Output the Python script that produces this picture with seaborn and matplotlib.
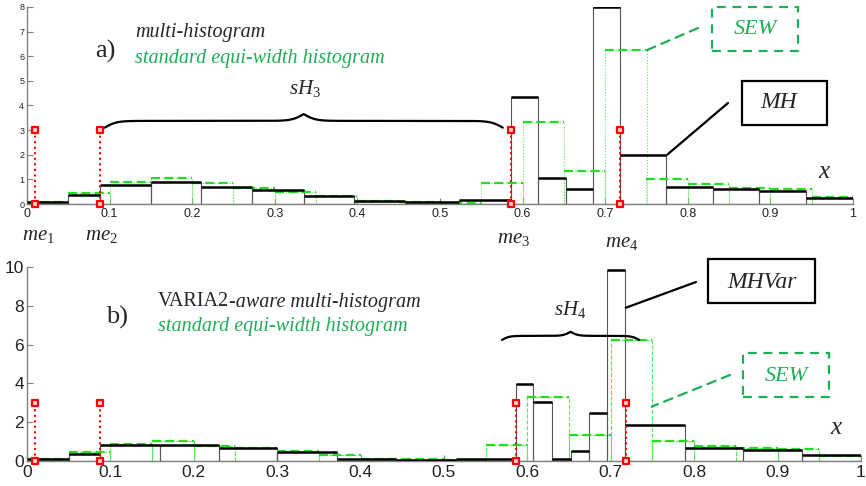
import numpy as np
import pandas as pd
import matplotlib
matplotlib.use("Agg")
import matplotlib.pyplot as plt
import matplotlib.patches as mpatches
import seaborn as sns

# DATOS
# a) multi-histograma y histograma equi-ancho
BORDES_MH_A = [0, 0.05, 0.088, 0.15, 0.211, 0.273, 0.335, 0.396, 0.458, 0.523,
               0.586, 0.619, 0.652, 0.6855, 0.7185, 0.774, 0.83, 0.886, 0.943, 1.0]
ALTURAS_MH_A = [0.1, 0.37, 0.79, 0.89, 0.68, 0.56, 0.31, 0.11, 0.07, 0.16,
                4.35, 1.07, 0.6, 8.0, 2.0, 0.7, 0.62, 0.53, 0.23]
ALTURAS_SEW_A = [0.1, 0.44, 0.89, 1.04, 0.85, 0.65, 0.49, 0.33, 0.14, 0.07,
                 0.05, 0.85, 3.34, 1.32, 6.25, 1.03, 0.8, 0.66, 0.6, 0.27]

# b) multi-histograma VARIA2 y histograma equi-ancho
BORDES_MH_B = [0, 0.05, 0.088, 0.159, 0.23, 0.30, 0.372, 0.443, 0.514, 0.586,
               0.607, 0.629, 0.652, 0.674, 0.696, 0.7175, 0.789, 0.858, 0.929, 1.0]
ALTURAS_MH_B = [0.1, 0.38, 0.81, 0.85, 0.66, 0.45, 0.1, 0.05, 0.12, 3.97,
                3.05, 0.12, 0.52, 2.48, 9.86, 1.84, 0.66, 0.59, 0.29]
ALTURAS_SEW_B = [0.12, 0.45, 0.88, 1.03, 0.76, 0.67, 0.52, 0.33, 0.09, 0.08,
                 0.04, 0.84, 3.31, 1.33, 6.24, 1.03, 0.78, 0.67, 0.6, 0.24]

BORDES_SEW = [round(i * 0.05, 2) for i in range(21)]

# posiciones de los marcadores me1..me4 y su altura
ME_X = [0.01, 0.088, 0.586, 0.718]
ME_ALTO = 3

VERDE_TXT = "#1fae55"
VERDE_BARRA = "#22dd22"
VERDE_CLARO = "#55ee55"
GRIS = "#808080"

W, H = 866, 486


def px(x, y):
    # pixeles de la figura -> fracción de figura
    return (x / W, 1 - y / H)


def dibujar_hist(ax, bordes, alturas, color_lado, color_tope, ls_lado, ls_tope, lw_tope):
    b = np.array(bordes)
    centros = (b[:-1] + b[1:]) / 2
    df = pd.DataFrame({"x": centros, "w": alturas})
    sns.histplot(data=df, x="x", weights="w", bins=list(bordes), stat="count",
                 fill=False, color=color_lado, linewidth=0.8,
                 linestyle=ls_lado, ax=ax)
    ax.hlines(alturas, b[:-1], b[1:], colors=color_tope,
              linestyles=ls_tope, linewidth=lw_tope, zorder=4)


def marcadores(ax):
    for xm in ME_X:
        ax.vlines(xm, 0, ME_ALTO, colors="red", linestyles=":", linewidth=1.5, zorder=5)
    pts = pd.DataFrame({"x": ME_X * 2, "y": [0] * 4 + [ME_ALTO] * 4})
    sns.scatterplot(data=pts, x="x", y="y", marker="s", s=22, facecolor="#ffd0d0",
                    edgecolor="red", linewidth=1.6, zorder=6, ax=ax, clip_on=False)


def llave(ax, x0, x1, y0, h, beta=220):
    # llave horizontal con curvas sigmoides
    n = 401
    x = np.linspace(x0, x1, n)
    xm = x[:n // 2 + 1]
    yh = (1 / (1 + np.exp(-beta * (xm - xm[0]))) +
          1 / (1 + np.exp(-beta * (xm - xm[-1]))))
    y = np.concatenate((yh, yh[-2::-1]))
    ax.plot(x, y0 + (y - 0.5) * h, color="black", lw=1.6, zorder=7)


def estilo_eje(ax, ymax, yticks, fs_x, fs_y):
    ax.set_xlim(0, 1)
    ax.set_ylim(0, ymax)
    ax.set_xticks(np.round(np.arange(0, 1.01, 0.1), 1))
    ax.set_xticklabels(["0", "0.1", "0.2", "0.3", "0.4", "0.5", "0.6", "0.7", "0.8", "0.9", "1"])
    ax.set_yticks(yticks)
    ax.tick_params(axis="x", direction="in", length=4, color=GRIS, labelsize=fs_x,
                   labelcolor="#222222", pad=3)
    ax.tick_params(axis="y", direction="in", length=4, color=GRIS, labelsize=fs_y,
                   labelcolor="#222222", pad=2)
    ax.set_xlabel("")
    ax.set_ylabel("")
    for lado in ["top", "right"]:
        ax.spines[lado].set_visible(False)
    for lado in ["left", "bottom"]:
        ax.spines[lado].set_color(GRIS)
        ax.spines[lado].set_linewidth(1.0)
    ax.patch.set_alpha(0)


sns.set_style("ticks")
plt.rcParams["font.family"] = ["Liberation Sans", "DejaVu Sans"]
plt.rcParams["mathtext.fontset"] = "custom"
plt.rcParams["mathtext.rm"] = "Liberation Serif"
plt.rcParams["mathtext.it"] = "Liberation Serif:italic"

fig = plt.figure(figsize=(W / 100, H / 100), dpi=100)
ax1 = fig.add_axes([27 / W, 1 - 204 / H, 826 / W, 197 / H])
ax2 = fig.add_axes([27 / W, 1 - 461 / H, 834 / W, 194 / H])

SERIF = "Liberation Serif"
FS_LEY = 14.5

# ---- a) ----
dibujar_hist(ax1, BORDES_SEW, ALTURAS_SEW_A, VERDE_CLARO, VERDE_BARRA, ":", (0, (4, 2)), 1.6)
dibujar_hist(ax1, BORDES_MH_A, ALTURAS_MH_A, "#555555", "black", "-", "-", 1.8)
marcadores(ax1)
estilo_eje(ax1, 8, range(0, 9), 9, 6.5)
llave(ax1, 0.094, 0.576, 3.1, 0.55, beta=140)

fig.text(*px(105, 51), "a)", family=SERIF, fontsize=19, ha="center", va="center")
fig.text(*px(135, 33), "multi-histogram", family=SERIF, style="italic", fontsize=FS_LEY,
         ha="left", va="center")
fig.text(*px(135, 58), "standard equi-width histogram", family=SERIF, style="italic",
         fontsize=FS_LEY, color=VERDE_TXT, ha="left", va="center")
fig.text(*px(305, 88), r"$sH_3$", fontsize=15, ha="center", va="center")
fig.text(*px(825, 171), r"$x$", fontsize=18, ha="center", va="center")
for txt, (xx, yy) in zip([r"$me_1$", r"$me_2$", r"$me_3$", r"$me_4$"],
                         [(38, 235), (101, 235), (514, 238), (622, 242)]):
    fig.text(*px(xx, yy), txt, fontsize=15, ha="center", va="center")

fig.patches.append(mpatches.Rectangle(px(712, 51), 86 / W, 44 / H, transform=fig.transFigure,
                                      fill=False, ec=VERDE_TXT, lw=1.6, ls=(0, (4, 3))))
fig.text(*px(755, 29), "SEW", family=SERIF, style="italic", fontsize=16, color=VERDE_TXT,
         ha="center", va="center")
ax1.annotate("", xy=(0.7506, 6.25), xycoords="data", xytext=px(698, 28),
             textcoords="figure fraction",
             arrowprops=dict(arrowstyle="-", color=VERDE_TXT, lw=1.6, ls=(0, (4, 3)),
                             shrinkA=0, shrinkB=0))
fig.patches.append(mpatches.Rectangle(px(742, 125), 85 / W, 44 / H, transform=fig.transFigure,
                                      fill=False, ec="black", lw=1.6))
fig.text(*px(779, 103), "MH", family=SERIF, style="italic", fontsize=17,
         ha="center", va="center")
ax1.annotate("", xy=(0.775, 2.0), xycoords="data", xytext=px(728, 103),
             textcoords="figure fraction",
             arrowprops=dict(arrowstyle="-", color="black", lw=1.6, shrinkA=0, shrinkB=0))

# ---- b) ----
dibujar_hist(ax2, BORDES_SEW, ALTURAS_SEW_B, VERDE_CLARO, VERDE_BARRA, "--", (0, (4, 2)), 1.6)
dibujar_hist(ax2, BORDES_MH_B, ALTURAS_MH_B, "#555555", "black", "-", "-", 1.8)
marcadores(ax2)
estilo_eje(ax2, 10, range(0, 11, 2), 12.5, 12.5)
llave(ax2, 0.5695, 0.734, 6.24, 0.42, beta=230)

fig.text(*px(117, 317), "b)", family=SERIF, fontsize=19, ha="center", va="center")
t_varia = fig.text(*px(158, 302), "VARIA2", family=SERIF, fontsize=FS_LEY,
                   ha="left", va="center")
fig.canvas.draw()
bb = t_varia.get_window_extent()
fig.text(bb.x1 / W, 1 - 302 / H, "-aware multi-histogram", family=SERIF, style="italic",
         fontsize=FS_LEY, ha="left", va="center")
fig.text(*px(158, 326), "standard equi-width histogram", family=SERIF, style="italic",
         fontsize=FS_LEY, color=VERDE_TXT, ha="left", va="center")
fig.text(*px(570, 309), r"$sH_4$", fontsize=15, ha="center", va="center")
fig.text(*px(837, 427), r"$x$", fontsize=18, ha="center", va="center")

fig.patches.append(mpatches.Rectangle(px(708, 303), 107 / W, 44 / H, transform=fig.transFigure,
                                      fill=False, ec="black", lw=1.6))
fig.text(*px(762, 282), "MHVar", family=SERIF, style="italic", fontsize=17,
         ha="center", va="center")
ax2.annotate("", xy=(0.718, 7.9), xycoords="data", xytext=px(696, 282),
             textcoords="figure fraction",
             arrowprops=dict(arrowstyle="-", color="black", lw=1.6, shrinkA=0, shrinkB=0))
fig.patches.append(mpatches.Rectangle(px(743, 397), 86 / W, 44 / H, transform=fig.transFigure,
                                      fill=False, ec=VERDE_TXT, lw=1.6, ls=(0, (4, 3))))
fig.text(*px(786, 376), "SEW", family=SERIF, style="italic", fontsize=16, color=VERDE_TXT,
         ha="center", va="center")
ax2.annotate("", xy=(0.749, 2.8), xycoords="data", xytext=px(730, 375),
             textcoords="figure fraction",
             arrowprops=dict(arrowstyle="-", color=VERDE_TXT, lw=1.6, ls=(0, (4, 3)),
                             shrinkA=0, shrinkB=0))

fig.savefig("out.png", dpi=100)
plt.close(fig)
